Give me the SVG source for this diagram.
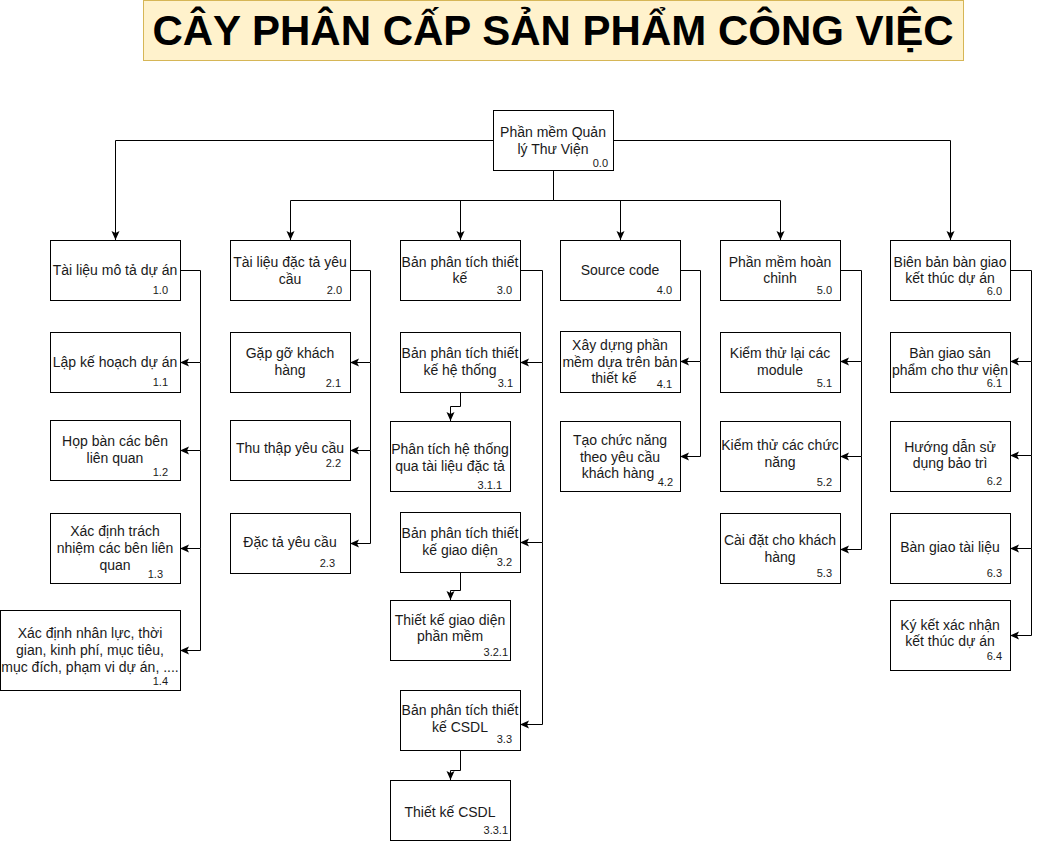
<svg xmlns="http://www.w3.org/2000/svg" width="1039" height="847" viewBox="0 0 1039 847">
<style>
.bx{fill:#ffffff;stroke:#000000;stroke-width:1}
.t{font-family:"Liberation Sans",Arial,sans-serif;font-size:14px;fill:#1a1a1a;text-anchor:middle}
.n{font-family:"Liberation Sans",Arial,sans-serif;font-size:11px;fill:#1a1a1a;text-anchor:end}
.c{fill:none;stroke:#000000;stroke-width:1}
.title{font-family:"Liberation Sans",Arial,sans-serif;font-size:42px;font-weight:bold;fill:#000000;text-anchor:middle}
</style>
<defs>
<marker id="arr" markerUnits="userSpaceOnUse" markerWidth="10" markerHeight="10" refX="9" refY="4" orient="auto">
<path d="M0,0 L9,4 L0,8 L2,4 Z" fill="#000000"/>
</marker>
</defs>
<rect width="1039" height="847" fill="#ffffff"/>
<g id="title">
<rect x="143.5" y="0.5" width="820" height="60" fill="#fff2cc" stroke="#d6b656"/>
<text class="title" x="553" y="45">CÂY PHÂN CẤP SẢN PHẨM CÔNG VIỆC</text>
</g>
<g id="connectors">
<path class="c" d="M493,140.5 H115.5 V240" marker-end="url(#arr)"/>
<path class="c" d="M613,140.5 H950.5 V240" marker-end="url(#arr)"/>
<path class="c" d="M553.5,170 V200.5 H290.5 V240" marker-end="url(#arr)"/>
<path class="c" d="M553.5,200.5 H460.5 V240" marker-end="url(#arr)"/>
<path class="c" d="M553.5,200.5 H620.5 V240" marker-end="url(#arr)"/>
<path class="c" d="M553.5,200.5 H780.5 V240" marker-end="url(#arr)"/>
<path class="c" d="M180,270.5 H200.5 V362.5 H180" marker-end="url(#arr)"/>
<path class="c" d="M200.5,362.5 V450.5 H180" marker-end="url(#arr)"/>
<path class="c" d="M200.5,450.5 V548.5 H180" marker-end="url(#arr)"/>
<path class="c" d="M200.5,548.5 V650.5 H180" marker-end="url(#arr)"/>
<path class="c" d="M350,270.5 H370.5 V362.5 H350" marker-end="url(#arr)"/>
<path class="c" d="M370.5,362.5 V450.5 H350" marker-end="url(#arr)"/>
<path class="c" d="M370.5,450.5 V543.5 H350" marker-end="url(#arr)"/>
<path class="c" d="M520,270.5 H542.5 V362.5 H520" marker-end="url(#arr)"/>
<path class="c" d="M542.5,362.5 V542.5 H520" marker-end="url(#arr)"/>
<path class="c" d="M542.5,542.5 V724.5 H520" marker-end="url(#arr)"/>
<path class="c" d="M460.5,392 V406.5 H450.5 V421" marker-end="url(#arr)"/>
<path class="c" d="M460.5,572 V590.5 H450.5 V600" marker-end="url(#arr)"/>
<path class="c" d="M460.5,750 V770.5 H450.5 V780" marker-end="url(#arr)"/>
<path class="c" d="M680,270.5 H700.5 V361.5 H680" marker-end="url(#arr)"/>
<path class="c" d="M700.5,361.5 V456.5 H680" marker-end="url(#arr)"/>
<path class="c" d="M840,270.5 H861.5 V361.5 H840" marker-end="url(#arr)"/>
<path class="c" d="M861.5,361.5 V456.5 H840" marker-end="url(#arr)"/>
<path class="c" d="M861.5,456.5 V549.5 H840" marker-end="url(#arr)"/>
<path class="c" d="M1010,270.5 H1031.5 V361.5 H1010" marker-end="url(#arr)"/>
<path class="c" d="M1031.5,361.5 V455.5 H1010" marker-end="url(#arr)"/>
<path class="c" d="M1031.5,455.5 V548.5 H1010" marker-end="url(#arr)"/>
<path class="c" d="M1031.5,548.5 V635.5 H1010" marker-end="url(#arr)"/>
</g>
<g id="n0_0"><rect class="bx" x="493.5" y="110.5" width="120" height="60"/><text class="t" x="553" y="137">Phần mềm Quản</text><text class="t" x="553" y="154">lý Thư Viện</text><text class="n" x="608" y="167">0.0</text></g>
<g id="n1_0"><rect class="bx" x="50.5" y="240.5" width="130" height="60"/><text class="t" x="115" y="275">Tài liệu mô tả dự án</text><text class="n" x="168" y="294">1.0</text></g>
<g id="n1_1"><rect class="bx" x="50.5" y="332.5" width="130" height="60"/><text class="t" x="115" y="367">Lập kế hoạch dự án</text><text class="n" x="168" y="386">1.1</text></g>
<g id="n1_2"><rect class="bx" x="50.5" y="420.5" width="130" height="60"/><text class="t" x="115" y="446">Họp bàn các bên</text><text class="t" x="115" y="463">liên quan</text><text class="n" x="168" y="476">1.2</text></g>
<g id="n1_3"><rect class="bx" x="50.5" y="513.5" width="130" height="70"/><text class="t" x="115" y="536">Xác định trách</text><text class="t" x="115" y="553">nhiệm các bên liên</text><text class="t" x="115" y="570">quan</text><text class="n" x="163" y="578">1.3</text></g>
<g id="n1_4"><rect class="bx" x="0.5" y="610.5" width="180" height="80"/><text class="t" x="90" y="638">Xác định nhân lực, thời</text><text class="t" x="90" y="655">gian, kinh phí, mục tiêu,</text><text class="t" x="90" y="672">mục đích, phạm vi dự án, ....</text><text class="n" x="168" y="685">1.4</text></g>
<g id="n2_0"><rect class="bx" x="230.5" y="240.5" width="120" height="60"/><text class="t" x="290" y="267">Tài liệu đặc tả yêu</text><text class="t" x="290" y="284">cầu</text><text class="n" x="342" y="294">2.0</text></g>
<g id="n2_1"><rect class="bx" x="230.5" y="332.5" width="120" height="60"/><text class="t" x="290" y="358">Gặp gỡ khách</text><text class="t" x="290" y="375">hàng</text><text class="n" x="341" y="387">2.1</text></g>
<g id="n2_2"><rect class="bx" x="230.5" y="420.5" width="120" height="60"/><text class="t" x="290" y="453">Thu thập yêu cầu</text><text class="n" x="341" y="467">2.2</text></g>
<g id="n2_3"><rect class="bx" x="230.5" y="513.5" width="120" height="60"/><text class="t" x="290" y="547">Đặc tả yêu cầu</text><text class="n" x="335" y="567">2.3</text></g>
<g id="n3_0"><rect class="bx" x="400.5" y="240.5" width="120" height="60"/><text class="t" x="460" y="267">Bản phân tích thiết</text><text class="t" x="460" y="283">kế</text><text class="n" x="512" y="294">3.0</text></g>
<g id="n3_1"><rect class="bx" x="400.5" y="332.5" width="120" height="60"/><text class="t" x="460" y="358">Bản phân tích thiết</text><text class="t" x="460" y="375">kế hệ thống</text><text class="n" x="513" y="387">3.1</text></g>
<g id="n3_1_1"><rect class="bx" x="390.5" y="421.5" width="120" height="70"/><text class="t" x="450" y="454">Phân tích hệ thống</text><text class="t" x="450" y="471">qua tài liệu đặc tả</text><text class="n" x="502" y="489">3.1.1</text></g>
<g id="n3_2"><rect class="bx" x="400.5" y="512.5" width="120" height="60"/><text class="t" x="460" y="538">Bản phân tích thiết</text><text class="t" x="460" y="555">kế giao diện</text><text class="n" x="512" y="566">3.2</text></g>
<g id="n3_2_1"><rect class="bx" x="390.5" y="600.5" width="120" height="60"/><text class="t" x="450" y="625">Thiết kế giao diện</text><text class="t" x="450" y="641">phần mềm</text><text class="n" x="508" y="656">3.2.1</text></g>
<g id="n3_3"><rect class="bx" x="400.5" y="690.5" width="120" height="60"/><text class="t" x="460" y="715">Bản phân tích thiết</text><text class="t" x="460" y="732">kế CSDL</text><text class="n" x="512" y="743">3.3</text></g>
<g id="n3_3_1"><rect class="bx" x="390.5" y="780.5" width="120" height="60"/><text class="t" x="450" y="817">Thiết kế CSDL</text><text class="n" x="508" y="834">3.3.1</text></g>
<g id="n4_0"><rect class="bx" x="560.5" y="240.5" width="120" height="60"/><text class="t" x="620" y="275">Source code</text><text class="n" x="672" y="294">4.0</text></g>
<g id="n4_1"><rect class="bx" x="560.5" y="331.5" width="120" height="61"/><text class="t" x="620" y="350">Xây dựng phần</text><text class="t" x="620" y="367">mềm dựa trên bản</text><text class="t" x="614" y="383">thiết kế</text><text class="n" x="672" y="388">4.1</text></g>
<g id="n4_2"><rect class="bx" x="560.5" y="421.5" width="120" height="70"/><text class="t" x="620" y="445">Tạo chức năng</text><text class="t" x="620" y="462">theo yêu cầu</text><text class="t" x="618" y="478">khách hàng</text><text class="n" x="673" y="486">4.2</text></g>
<g id="n5_0"><rect class="bx" x="720.5" y="240.5" width="120" height="60"/><text class="t" x="780" y="267">Phần mềm hoàn</text><text class="t" x="780" y="283">chỉnh</text><text class="n" x="832" y="294">5.0</text></g>
<g id="n5_1"><rect class="bx" x="720.5" y="332.5" width="120" height="60"/><text class="t" x="780" y="358">Kiểm thử lại các</text><text class="t" x="780" y="375">module</text><text class="n" x="832" y="387">5.1</text></g>
<g id="n5_2"><rect class="bx" x="720.5" y="421.5" width="120" height="70"/><text class="t" x="780" y="450">Kiểm thử các chức</text><text class="t" x="780" y="467">năng</text><text class="n" x="832" y="486">5.2</text></g>
<g id="n5_3"><rect class="bx" x="720.5" y="513.5" width="120" height="70"/><text class="t" x="780" y="545">Cài đặt cho khách</text><text class="t" x="780" y="562">hàng</text><text class="n" x="832" y="577">5.3</text></g>
<g id="n6_0"><rect class="bx" x="890.5" y="240.5" width="120" height="60"/><text class="t" x="950" y="267">Biên bản bàn giao</text><text class="t" x="950" y="283">kết thúc dự án</text><text class="n" x="1002" y="295">6.0</text></g>
<g id="n6_1"><rect class="bx" x="890.5" y="332.5" width="120" height="60"/><text class="t" x="950" y="358">Bàn giao sản</text><text class="t" x="950" y="375">phẩm cho thư viện</text><text class="n" x="1002" y="387">6.1</text></g>
<g id="n6_2"><rect class="bx" x="890.5" y="421.5" width="120" height="70"/><text class="t" x="950" y="452">Hướng dẫn sử</text><text class="t" x="950" y="468">dụng bảo trì</text><text class="n" x="1002" y="485">6.2</text></g>
<g id="n6_3"><rect class="bx" x="890.5" y="513.5" width="120" height="70"/><text class="t" x="950" y="552">Bàn giao tài liệu</text><text class="n" x="1002" y="577">6.3</text></g>
<g id="n6_4"><rect class="bx" x="890.5" y="600.5" width="120" height="70"/><text class="t" x="950" y="630">Ký kết xác nhận</text><text class="t" x="950" y="646">kết thúc dự án</text><text class="n" x="1002" y="660">6.4</text></g>
</svg>
